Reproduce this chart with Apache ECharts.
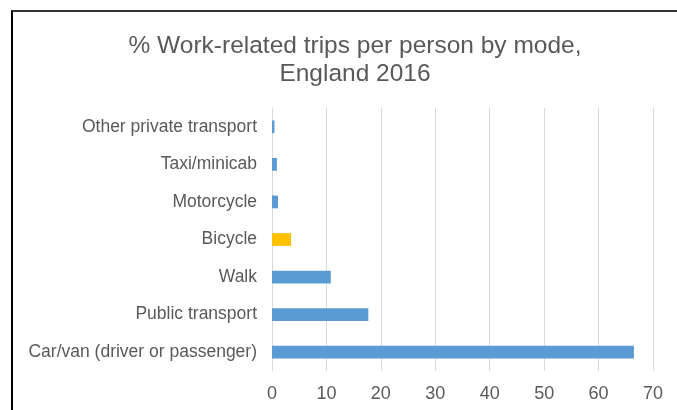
<!DOCTYPE html>
<html>
<head>
<meta charset="utf-8">
<script src="https://cdn.jsdelivr.net/npm/echarts@6/dist/echarts.min.js"></script>
<style>
  html, body { margin: 0; padding: 0; background: #fff; }
  #frame {
    position: absolute; left: 11px; top: 10px; width: 680px; height: 410px;
    border-left: 2px solid #000; border-top: 2px solid #333;
  }
  #chart { position: absolute; left: 0; top: 0; width: 677px; height: 410px; }
</style>
</head>
<body>
<div id="frame"></div>
<div id="chart"></div>
<script>
const titleText = '% Work-related trips per person by mode,\nEngland 2016';

const categories = [
  'Car/van (driver or passenger)',
  'Public transport',
  'Walk',
  'Bicycle',
  'Motorcycle',
  'Taxi/minicab',
  'Other private transport',
];

const shares = [66.5, 17.7, 10.8, 3.5, 1.1, 0.9, 0.45];

const highlight = 'Bicycle';

const textColor = '#595959';
const fontFamily = '"Liberation Sans", Arial, sans-serif';

const chart = echarts.init(document.getElementById('chart'));

chart.setOption({
  animation: false,
  textStyle: { fontFamily },
  title: {
    text: titleText,
    left: 350,
    top: 27,
    textAlign: 'center',
    textStyle: {
      color: textColor,
      fontFamily,
      fontSize: 24.5,
      fontWeight: 'normal',
      lineHeight: 28,
    },
  },
  grid: {
    left: 272,
    right: 24,
    top: 108,
    bottom: 39,
  },
  xAxis: {
    type: 'value',
    min: 0,
    max: 70,
    interval: 10,
    axisLine: { show: false },
    axisTick: { show: false },
    axisLabel: { color: textColor, fontSize: 18, margin: 14 },
    splitLine: { lineStyle: { color: '#d9d9d9', width: 1 } },
  },
  yAxis: {
    type: 'category',
    data: categories,
    axisLine: { show: true, lineStyle: { color: '#d9d9d9' } },
    axisTick: { show: false },
    axisLabel: { color: textColor, fontSize: 17.5, margin: 15 },
  },
  series: [
    {
      type: 'bar',
      barWidth: '34%',
      data: shares.map((v, i) => ({
        value: v,
        itemStyle: { color: categories[i] === highlight ? '#ffc000' : '#5b9bd5' },
      })),
    },
  ],
});
</script>
</body>
</html>
